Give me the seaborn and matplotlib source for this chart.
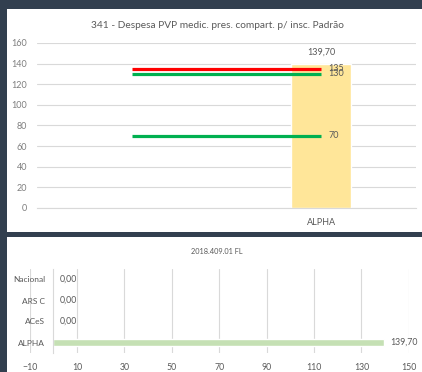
import numpy as np
import pandas as pd
import matplotlib
matplotlib.use("Agg")
import matplotlib.pyplot as plt
from matplotlib.patches import Rectangle
import seaborn as sns

# ---- data ----
top_title = "341 - Despesa PVP medic. pres. compart. p/ insc. Padrão"
top_categories = [" ", "ALPHA"]
top_values = [0.0, 139.70]
ref_values = [135, 130, 70]
ref_colors = ["#FF0000", "#00B050", "#00B050"]

bottom_title = "2018.409.01 FL"
bottom_categories = ["Nacional", "ARS C", "ACeS", "ALPHA"]
bottom_values = [0.0, 0.0, 0.0, 139.70]
bottom_ticks = [-10, 10, 30, 50, 70, 90, 110, 130, 150]


def fmt(v):
    return f"{v:.2f}".replace(".", ",")


sns.set_theme(style="white")
plt.rcParams["font.family"] = ["Lato", "DejaVu Sans"]

W, H = 422, 372
fig = plt.figure(figsize=(W / 100, H / 100), dpi=100, facecolor="#323F4F")


def px_rect(x0, y0, x1, y1):
    return [x0 / W, 1 - y1 / H, (x1 - x0) / W, (y1 - y0) / H]


# white panels behind the two charts
for (x0, y0, x1, y1) in [(7, 9, 422, 232), (7, 237, 422, 372)]:
    fig.patches.append(Rectangle((x0 / W, 1 - y1 / H), (x1 - x0) / W, (y1 - y0) / H,
                                 transform=fig.transFigure, facecolor="white",
                                 edgecolor="none", zorder=-10))

grid_c = "#D9D9D9"
text_c = "#595959"
tick_c = "#7F7F7F"

# ---- top chart ----
ax1 = fig.add_axes(px_rect(37, 43, 416, 208))
ax1.set_zorder(2)
ax1.set_facecolor("none")
top_df = pd.DataFrame({"cat": top_categories, "val": top_values})
sns.barplot(data=top_df, x="cat", y="val", order=top_categories, color="#FFE699",
            saturation=1, width=0.317, ax=ax1, zorder=2)
for v, c in zip(ref_values, ref_colors):
    ref_df = pd.DataFrame({"cat": top_categories, "val": [v, v]})
    sns.pointplot(data=ref_df, x="cat", y="val", order=top_categories, color=c,
                  markers="", linewidth=2.3, ax=ax1, zorder=3)
for line in ax1.lines:
    line.set_solid_capstyle("butt")

ax1.set_ylim(0, 160)
ax1.set_xlim(-0.5, 1.5)
ax1.set_yticks(np.arange(0, 161, 20))
ax1.yaxis.grid(True, color=grid_c, linewidth=0.8)
ax1.set_axisbelow(True)
for s in ["top", "right", "left"]:
    ax1.spines[s].set_visible(False)
ax1.spines["bottom"].set_color(grid_c)
ax1.spines["bottom"].set_linewidth(0.8)
ax1.tick_params(axis="y", length=0, pad=7, labelsize=6.5, labelcolor=tick_c)
ax1.tick_params(axis="x", length=0, pad=7, labelsize=6.5, labelcolor=text_c)
ax1.set_xlabel("")
ax1.set_ylabel("")

# value label on the bar
bar = ax1.patches[1]
ax1.annotate(fmt(top_values[1]), (bar.get_x() + bar.get_width() / 2, top_values[1]),
             xytext=(0, 5), textcoords="offset points", ha="center", va="bottom",
             fontsize=6.5, color=text_c)
# labels at the end of the reference lines
for v in ref_values:
    ax1.annotate(f"{v}", (1, v), xytext=(5, 0), textcoords="offset points",
                 ha="left", va="center", fontsize=6.5, color=text_c)

fig.text(217 / W, 1 - 25 / H, top_title, ha="center", va="center",
         fontsize=7.3, color=text_c)

# ---- bottom chart ----
ax2 = fig.add_axes(px_rect(29.6, 269, 408.8, 353))
ax2.set_zorder(2)
ax2.set_facecolor("none")
bot_df = pd.DataFrame({"cat": bottom_categories, "val": bottom_values})
sns.barplot(data=bot_df, x="val", y="cat", order=bottom_categories, orient="h",
            color="#C5E0B4", saturation=1, width=0.37, ax=ax2, zorder=2)
ax2.set_xlim(-10, 150)
ax2.set_xticks(bottom_ticks)
ax2.xaxis.grid(True, color=grid_c, linewidth=0.8)
ax2.set_axisbelow(True)
for s in ["top", "right", "bottom"]:
    ax2.spines[s].set_visible(False)
ax2.spines["left"].set_position(("data", 0))
ax2.spines["left"].set_color(grid_c)
ax2.spines["left"].set_linewidth(0.8)
ax2.tick_params(axis="y", length=0, pad=6, labelsize=6, labelcolor=text_c)
ax2.tick_params(axis="x", length=0, pad=7, labelsize=6.3, labelcolor=text_c)
ax2.set_xlabel("")
ax2.set_ylabel("")
for i, v in enumerate(bottom_values):
    ax2.annotate(fmt(v), (v, i), xytext=(4.5, 0), textcoords="offset points",
                 ha="left", va="center", fontsize=6.3, color=text_c)

fig.text(217 / W, 1 - 252 / H, bottom_title, ha="center", va="center",
         fontsize=5.3, color=text_c)

fig.savefig("out.png", dpi=100, facecolor=fig.get_facecolor())
